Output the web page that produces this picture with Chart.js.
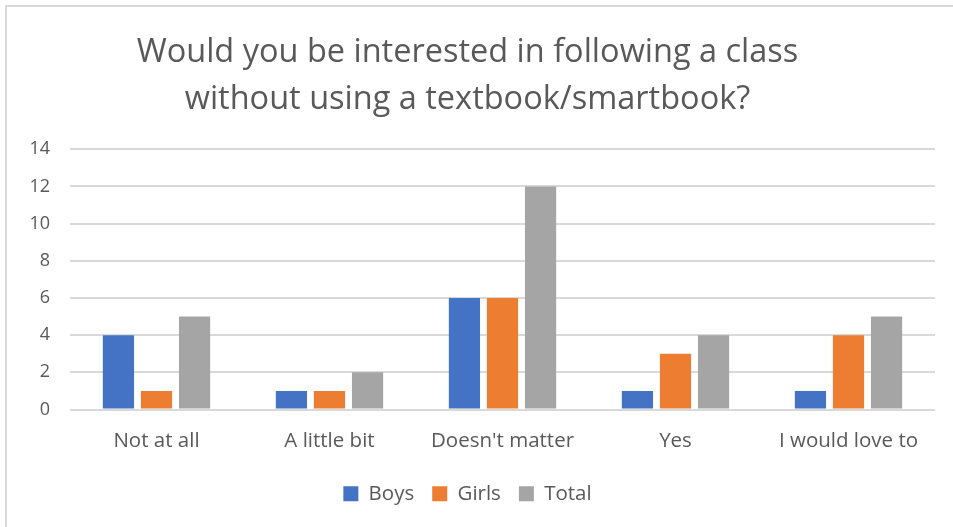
<!DOCTYPE html>
<html>
<head>
<meta charset="utf-8">
<script src="https://cdn.jsdelivr.net/npm/chart.js@4"></script>
<style>
  html, body { margin: 0; padding: 0; background: #fff; }
  #frame {
    position: absolute; left: 5px; top: 5px; width: 960px; height: 540px;
    border-left: 2px solid #d9d9d9; border-top: 2px solid #d9d9d9;
  }
  #wrap { position: absolute; left: 0; top: 0; width: 953px; height: 527px; }
</style>
</head>
<body>
<div id="frame"></div>
<div id="wrap"><canvas id="survey_chart"></canvas></div>
<script>
// answers to the survey question, per group
let answers = ['Not at all', 'A little bit', "Doesn't matter", 'Yes', 'I would love to'] ;
let boys  = [4, 1, 6, 1, 1] ;
let girls = [1, 1, 6, 3, 4] ;
let total = [5, 2, 12, 4, 5] ;
let titleLines = ['Would you be interested in following a class', 'without using a textbook/smartbook?'] ;

let textColor = '#595959' ;
let fontName = 'Open Sans' ;

let data = {
    labels: answers,
    datasets: [
        { label: 'Boys',  data: boys,  backgroundColor: '#4472C4' },
        { label: 'Girls', data: girls, backgroundColor: '#ED7D31' },
        { label: 'Total', data: total, backgroundColor: '#A5A5A5' },
    ]
} ;

let ctx = document.getElementById('survey_chart').getContext('2d') ;
let survey_chart = new Chart(ctx, {
    type: 'bar',
    data: data,
    options: {
        responsive: true,
        maintainAspectRatio: false,
        animation: false,
        categoryPercentage: 0.66,
        barPercentage: 0.82,
        layout: { padding: { left: 0, right: 18, top: 29, bottom: 13 } },
        scales: {
            x: {
                grid: { display: false },
                border: { display: false },
                ticks: { color: textColor, font: { family: fontName, size: 20.5 }, padding: 11 },
                afterFit: function (scale) { scale.height = 56 ; }
            },
            y: {
                min: 0, max: 14,
                ticks: { stepSize: 2, color: textColor, font: { family: fontName, size: 18 }, padding: 20 },
                grid: { color: '#d9d9d9', lineWidth: 2, drawTicks: false },
                border: { display: false },
                afterFit: function (scale) { scale.width = 70 ; }
            }
        },
        plugins: {
            title: {
                display: true,
                text: titleLines,
                color: textColor,
                font: { family: fontName, size: 32.5, weight: 'normal', lineHeight: 1.45 },
                padding: { top: 0, bottom: 26 }
            },
            legend: {
                position: 'bottom',
                labels: {
                    color: textColor,
                    font: { family: fontName, size: 20.5 },
                    boxWidth: 15, boxHeight: 15,
                    padding: 18
                }
            },
            tooltip: { enabled: false }
        }
    }
}) ;
</script>
</body>
</html>
